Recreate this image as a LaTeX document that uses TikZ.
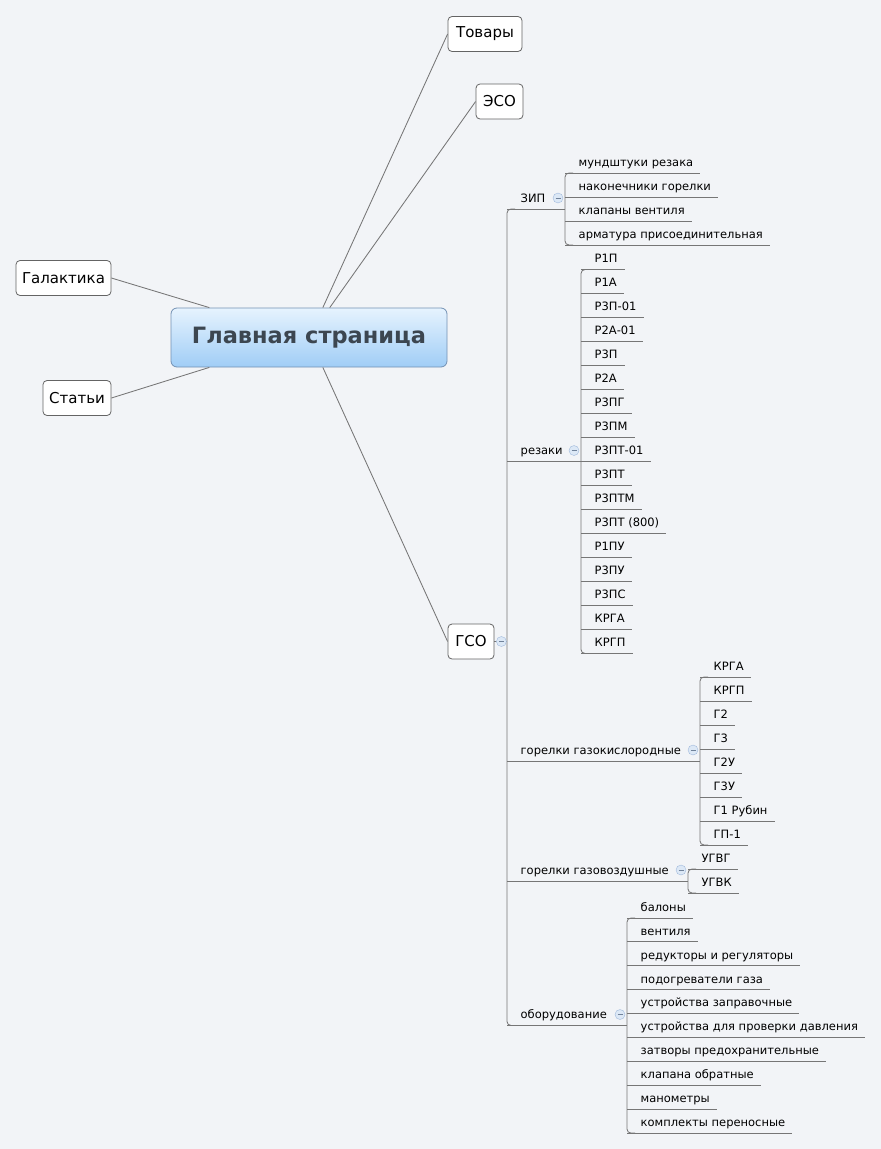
\documentclass[tikz,border=0pt]{standalone}
\usepackage{fontspec}
\setmainfont{DejaVu Sans}
\usetikzlibrary{positioning,calc}
\definecolor{bgpage}{RGB}{242,244,247}
\definecolor{treeline}{RGB}{118,118,118}
\definecolor{boxline}{RGB}{100,100,100}
\definecolor{mainline}{RGB}{115,145,180}
\definecolor{maintop}{RGB}{230,243,254}
\definecolor{mainbot}{RGB}{160,205,246}
\definecolor{maintext}{RGB}{60,70,80}
\definecolor{foldfill}{RGB}{220,232,246}
\definecolor{foldline}{RGB}{160,185,220}
\begin{document}
\begin{tikzpicture}[x=1pt,y=-1pt,
  tree/.style={draw=treeline,line width=0.85pt},
  topic/.style={draw=boxline,line width=0.8pt,rounded corners=4pt,fill=white,minimum height=35pt,inner sep=0pt,font=\fontsize{15}{18}\selectfont},
  central/.style={draw=mainline,line width=0.8pt,rounded corners=6pt,top color=maintop,bottom color=mainbot,minimum width=276pt,minimum height=59pt,text=maintext,font=\fontsize{22.5}{27}\selectfont\bfseries},
  leaf/.style={anchor=south west,inner sep=0pt,text height=9pt,text depth=6.5pt,font=\fontsize{11.5}{14}\selectfont,execute at begin node=\hspace*{13.5pt},execute at end node=\hspace*{7pt}},
  fold/.style={circle,draw=foldline,fill=foldfill,minimum size=10pt,inner sep=0pt,path picture={\draw[foldline!70!black,line width=0.7pt] ([xshift=-2.5pt]path picture bounding box.center) -- ([xshift=2.5pt]path picture bounding box.center);}}]
\fill[bgpage] (0,0) rectangle (881,1149);
\useasboundingbox (0,0) rectangle (881,1149);

% main topics
\node[central] (main) at (309,337.5) {Главная страница};
\node[topic,minimum width=74pt] (tov) at (485,34) {Товары};
\node[topic,minimum width=47pt] (eso) at (499.5,101.5) {ЭСО};
\node[topic,minimum width=95pt] (gal) at (63.5,278) {Галактика};
\node[topic,minimum width=68pt] (stat) at (77,398) {Статьи};
\node[topic,minimum width=46pt] (gso) at (471,641.5) {ГСО};

\draw[tree] (gal.east) -- ($(main.north west)!0.14!(main.north east)$);
\draw[tree] (stat.east) -- ($(main.south west)!0.14!(main.south east)$);
\draw[tree] ($(main.north west)!0.55!(main.north east)$) -- (tov.west);
\draw[tree] ($(main.north west)!0.575!(main.north east)$) -- (eso.west);
\draw[tree] ($(main.south west)!0.55!(main.south east)$) -- (gso.west);

% branches of ГСО
\node[leaf] (zip) at (507,209) {ЗИП};
\node[leaf] (rez) at (507,461.5) {резаки};
\node[leaf] (gko) at (507,761) {горелки газокислородные};
\node[leaf] (gvz) at (507,881) {горелки газовоздушные};
\node[leaf] (obor) at (507,1025.5) {оборудование};

% leaves
\foreach \lbl [count=\i] in {мундштуки резака,наконечники горелки,клапаны вентиля,арматура присоединительная}{
  \node[leaf] (zip\i) at (565,{149+24*\i}) {\lbl};
  \draw[tree] (zip\i.south west) -- (zip\i.south east);
}
\foreach \lbl [count=\i] in {Р1П,Р1А,Р3П-01,Р2А-01,Р3П,Р2А,Р3ПГ,Р3ПМ,Р3ПТ-01,Р3ПТ,Р3ПТМ,Р3ПТ (800),Р1ПУ,Р3ПУ,Р3ПС,КРГА,КРГП}{
  \node[leaf] (rez\i) at (581,{245.5+24*\i}) {\lbl};
  \draw[tree] (rez\i.south west) -- (rez\i.south east);
}
\foreach \lbl [count=\i] in {КРГА,КРГП,Г2,Г3,Г2У,Г3У,Г1 Рубин,ГП-1}{
  \node[leaf] (gko\i) at (700,{653+24*\i}) {\lbl};
  \draw[tree] (gko\i.south west) -- (gko\i.south east);
}
\foreach \lbl [count=\i] in {УГВГ,УГВК}{
  \node[leaf] (gvz\i) at (688,{845+24*\i}) {\lbl};
  \draw[tree] (gvz\i.south west) -- (gvz\i.south east);
}
\foreach \lbl [count=\i] in {балоны,вентиля,редукторы и регуляторы,подогреватели газа,устройства заправочные,устройства для проверки давления,затворы предохранительные,клапана обратные,манометры,комплекты переносные}{
  \node[leaf] (obor\i) at (627,{894.1+23.9*\i}) {\lbl};
  \draw[tree] (obor\i.south west) -- (obor\i.south east);
}

% bars
\draw[tree,rounded corners=4pt] ($(zip.south west)+(8,0)$) -- (zip.south west) -- (obor.south west) -- ++(8,0);
\draw[tree,rounded corners=4pt] ($(zip1.south west)+(8,0)$) -- (zip1.south west) -- (zip4.south west) -- ++(8,0);
\draw[tree,rounded corners=4pt] ($(rez1.south west)+(8,0)$) -- (rez1.south west) -- (rez17.south west) -- ++(8,0);
\draw[tree,rounded corners=4pt] ($(gko1.south west)+(8,0)$) -- (gko1.south west) -- (gko8.south west) -- ++(8,0);
\draw[tree,rounded corners=4pt] ($(gvz1.south west)+(8,0)$) -- (gvz1.south west) -- (gvz2.south west) -- ++(8,0);
\draw[tree,rounded corners=4pt] ($(obor1.south west)+(8,0)$) -- (obor1.south west) -- (obor10.south west) -- ++(8,0);

% joints
\coordinate (zipj) at (zip.south west -| zip1.south west);
\coordinate (rezj) at (rez.south west -| rez1.south west);
\coordinate (gkoj) at (gko.south west -| gko1.south west);
\coordinate (gvzj) at (gvz.south west -| gvz1.south west);
\coordinate (oborj) at (obor.south west -| obor1.south west);
\coordinate (gsoj) at (gso.east -| zip.south west);
\draw[tree] (zip.south west) -- (zipj);
\draw[tree] (rez.south west) -- (rezj);
\draw[tree] (gko.south west) -- (gkoj);
\draw[tree] (gvz.south west) -- (gvzj);
\draw[tree] (obor.south west) -- (oborj);
\draw[tree] (gso.east) -- (gsoj);

% fold marks
\node[fold] (zipf) at ($(zipj)+(-7,-11)$) {};
\node[fold] (rezf) at ($(rezj)+(-7,-11)$) {};
\node[fold] (gkof) at ($(gkoj)+(-7,-11)$) {};
\node[fold] (gvzf) at ($(gvzj)+(-7,-11)$) {};
\node[fold] (oborf) at ($(oborj)+(-7,-11)$) {};
\node[fold] (gsof) at ($(gso.east)+(7,0)$) {};
\end{tikzpicture}
\end{document}
